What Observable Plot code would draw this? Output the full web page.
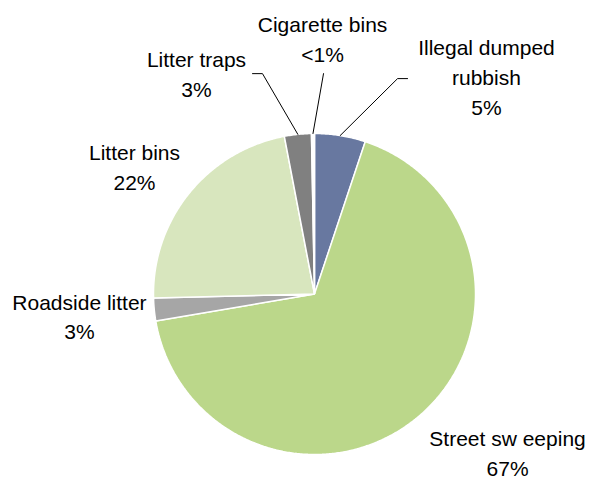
<!DOCTYPE html>
<html>
<head>
<meta charset="utf-8">
<script src="https://cdn.jsdelivr.net/npm/d3@7"></script>
<script src="https://cdn.jsdelivr.net/npm/@observablehq/plot@0.6"></script>
<style>
  html, body { margin: 0; padding: 0; background: #fff; }
  #chart { width: 589px; height: 479px; }
</style>
</head>
<body>
<div id="chart"></div>
<script>
// ---- data (clockwise from 12 o'clock) ----
const categories = ["Illegal dumped rubbish", "Street sweeping", "Roadside litter", "Litter bins", "Litter traps", "Cigarette bins"];
const values = [5.1, 67.2, 2.3, 22.4, 2.7, 0.3];
const valueLabels = ["5%", "67%", "3%", "22%", "3%", "<1%"];
const labelLines = ["Illegal dumped\nrubbish", "Street sw eeping", "Roadside litter", "Litter bins", "Litter traps", "Cigarette bins"];

// ---- styles / layout ----
const colors = ["#6878A0", "#BBD78A", "#A6A6A6", "#D8E6BE", "#808080", "#FFFFFF"];
// label centres in pie-radius units (centre = 0,0; y up)
const labelPos = [[1.068, 1.36], [1.199, -0.981], [-1.460, -0.13], [-1.118, 0.80], [-0.733, 1.38], [0.050, 1.60]];
// leader line elbows (null = no leader)
const leaderElbows = [[[0.578, 1.342], [0.516, 1.342]], null, null, null, [[-0.385, 1.373], [-0.323, 1.373]], [[0.056, 1.373]]];

const pie = d3.pie().sort(null).value(d => d)(values);

const slicePts = [];
pie.forEach((p, i) => {
  const name = categories[i];
  slicePts.push({name, x: 0, y: 0});
  const n = Math.max(2, Math.ceil((p.endAngle - p.startAngle) / (Math.PI / 360)));
  for (let k = 0; k <= n; k++) {
    const a = p.startAngle + (p.endAngle - p.startAngle) * k / n;
    slicePts.push({name, x: Math.sin(a), y: Math.cos(a)});
  }
  slicePts.push({name, x: 0, y: 0});
});

const leaders = [];
pie.forEach((p, i) => {
  if (!leaderElbows[i]) return;
  const mid = (p.startAngle + p.endAngle) / 2;
  leaderElbows[i].forEach(([x, y]) => leaders.push({name: categories[i], x, y}));
  leaders.push({name: categories[i], x: Math.sin(mid), y: Math.cos(mid)});
});

const labels = categories.map((c, i) => ({
  name: c, text: labelLines[i] + "\n" + valueLabels[i], x: labelPos[i][0], y: labelPos[i][1]
}));

const chart = Plot.plot({
  width: 589,
  height: 479,
  marginLeft: 153,
  marginRight: 114,
  marginTop: 133,
  marginBottom: 25,
  x: {domain: [-1, 1], axis: null},
  y: {domain: [-1, 1], axis: null},
  color: {domain: categories, range: colors},
  style: {fontFamily: "Liberation Sans, Arial, sans-serif", background: "#fff", overflow: "visible"},
  marks: [
    Plot.line(slicePts, {x: "x", y: "y", z: "name", fill: "name", stroke: "#fff", strokeWidth: 1.5, strokeLinejoin: "miter", curve: "linear-closed"}),
    Plot.line(leaders, {x: "x", y: "y", z: "name", stroke: "#000", strokeWidth: 1}),
    Plot.text(labels, {x: "x", y: "y", text: "text", fontSize: 21, fontFamily: "Liberation Sans", lineHeight: 1.42, fill: "#000", lineAnchor: "middle", textAnchor: "middle"})
  ]
});
document.getElementById("chart").appendChild(chart);
</script>
</body>
</html>
